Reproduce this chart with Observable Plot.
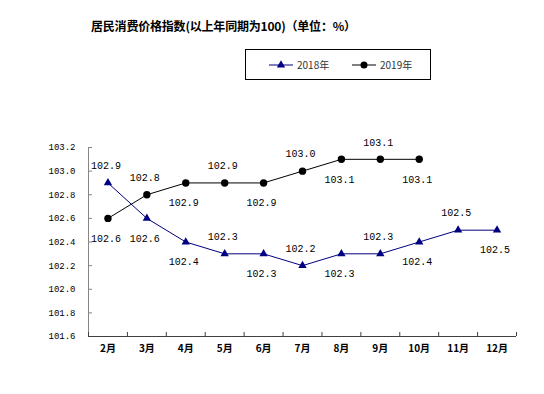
<!DOCTYPE html>
<html>
<head>
<meta charset="utf-8">
<script src="https://cdn.jsdelivr.net/npm/d3@7"></script>
<script src="https://cdn.jsdelivr.net/npm/@observablehq/plot@0.6"></script>
<style>
  body { margin: 0; background: #fff; }
  #wrap { position: relative; width: 544px; height: 394px; overflow: hidden; background: #fff; }
  #title { position: absolute; left: 91px; top: 19px; font: bold 12px/14px "Noto Sans CJK SC", sans-serif; white-space: nowrap; color: #000; letter-spacing: -0.2px; }
  #legend { position: absolute; left: 245px; top: 49px; width: 184px; height: 29px; border: 1px solid #000; box-sizing: content-box; }
  #legend svg { position: absolute; left: 0; top: 0; }
  #chart { position: absolute; left: 0; top: 0; }
</style>
</head>
<body>
<div id="wrap">
  <div id="chart"></div>
  <div id="title"></div>
  <div id="legend"></div>
</div>
<script>
const titleText = "居民消费价格指数(以上年同期为100)（单位：%）";
const months = ["2月","3月","4月","5月","6月","7月","8月","9月","10月","11月","12月"];
const seriesNames = ["2018年", "2019年"];
const values2018 = [102.9, 102.6, 102.4, 102.3, 102.3, 102.2, 102.3, 102.3, 102.4, 102.5, 102.5];
const values2019 = [102.6, 102.8, 102.9, 102.9, 102.9, 103.0, 103.1, 103.1, 103.1];
const labelPos2018 = ["t","b","b","t","b","t","b","t","b","t","b"];
const labelPos2019 = ["b","t","b","t","b","t","b","t","b"];
const yTicks = [101.6, 101.8, 102.0, 102.2, 102.4, 102.6, 102.8, 103.0, 103.2];

const colors = {"2018年": "#000080", "2019年": "#000000"};
const rows = [];
values2018.forEach((v, i) => rows.push({month: months[i], i, value: v, series: seriesNames[0], pos: labelPos2018[i]}));
values2019.forEach((v, i) => rows.push({month: months[i], i, value: v, series: seriesNames[1], pos: labelPos2019[i]}));
const r18 = rows.filter(d => d.series === seriesNames[0]);
const r19 = rows.filter(d => d.series === seriesNames[1]);
const boundaries = d3.range(months.length + 1);
const fmt = d3.format(".1f");
const numFont = "Liberation Mono, DejaVu Sans Mono, monospace";

const W = 544, H = 394, mL = 88, mR = 28, mT = 147, mB = 58;
const innerW = W - mL - mR, innerH = H - mT - mB;

const chart = Plot.plot({
  width: W, height: H,
  marginLeft: mL, marginRight: mR, marginTop: mT, marginBottom: mB,
  style: {background: "transparent", overflow: "visible", fontFamily: "Noto Sans CJK SC, sans-serif"},
  x: {type: "linear", domain: [0, months.length], axis: null},
  y: {domain: [101.6, 103.2], axis: null, label: null},
  marks: [
    Plot.ruleX([0], {stroke: "#868686"}),
    Plot.tickY(yTicks, {y: d => d, insetRight: innerW - 4, stroke: "#868686"}),
    Plot.ruleY([101.6], {stroke: "#404040"}),
    Plot.tickX(boundaries, {x: d => d, insetTop: innerH - 4, stroke: "#404040"}),
    Plot.axisY(yTicks, {label: null, tickSize: 0, tickPadding: 13, tickFormat: fmt, fontFamily: numFont, fontSize: 9, fill: "#000"}),
    Plot.text(months, {x: (d, i) => i + 0.5, frameAnchor: "bottom", dy: 15, text: d => d, fontSize: 10, fontWeight: "bold", fill: "#000"}),
    Plot.line(r18, {x: d => d.i + 0.5, y: "value", stroke: colors["2018年"], strokeWidth: 1}),
    Plot.line(r19, {x: d => d.i + 0.5, y: "value", stroke: colors["2019年"], strokeWidth: 1}),
    Plot.dot(r18, {x: d => d.i + 0.5, y: "value", symbol: "triangle", r: 3.1, fill: colors["2018年"], stroke: "none"}),
    Plot.dot(r19, {x: d => d.i + 0.5, y: "value", symbol: "circle", r: 3.7, fill: colors["2019年"], stroke: "none"}),
    Plot.text(rows.filter(d => d.pos === "t"), {x: d => d.i + 0.5, y: "value", text: d => fmt(d.value), dy: -17, dx: -2, fontFamily: numFont, fontSize: 10, fill: "#000"}),
    Plot.text(rows.filter(d => d.pos === "b"), {x: d => d.i + 0.5, y: "value", text: d => fmt(d.value), dy: 20, dx: -2, fontFamily: numFont, fontSize: 10, fill: "#000"})
  ]
});
document.getElementById("chart").appendChild(chart);
document.getElementById("title").textContent = titleText;

// legend
const lg = d3.select("#legend").append("svg").attr("width", 184).attr("height", 29);
const items = [
  {name: seriesNames[0], x0: 23, sym: "triangle"},
  {name: seriesNames[1], x0: 106, sym: "circle"}
];
items.forEach(it => {
  const g = lg.append("g");
  g.append("line").attr("x1", it.x0).attr("x2", it.x0 + 24).attr("y1", 15).attr("y2", 15)
    .attr("stroke", colors[it.name]).attr("stroke-width", 1);
  const sym = it.sym === "triangle" ? d3.symbolTriangle : d3.symbolCircle;
  const size = it.sym === "triangle" ? Math.PI * 3.1 * 3.1 : Math.PI * 3.5 * 3.5;
  g.append("path").attr("d", d3.symbol(sym, size)()).attr("transform", `translate(${it.x0 + 12},15)`)
    .attr("fill", colors[it.name]);
  g.append("text").attr("x", it.x0 + 28).attr("y", 19).attr("font-size", 10)
    .attr("font-family", "Noto Sans CJK SC, sans-serif").attr("fill", "#333").text(it.name);
});
</script>
</body>
</html>
